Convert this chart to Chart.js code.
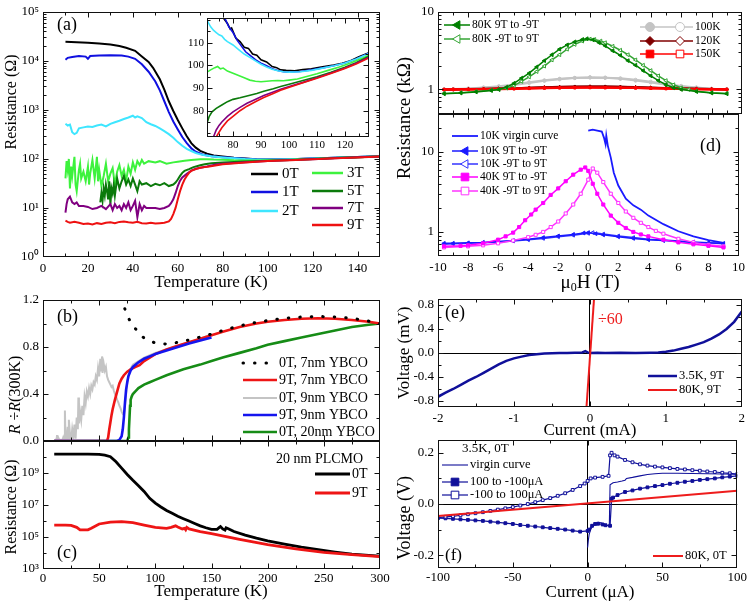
<!DOCTYPE html>
<html lang="en">
<head>
<meta charset="UTF-8">
<title>YBCO / PLCMO transport</title>
<style>
  body { margin: 0; background: #fff; }
  #wrap { position: relative; width: 749px; height: 603px; overflow: hidden; }
  #wrap canvas { position: absolute; left: 0; top: 0; }
</style>
</head>
<body>
<div id="wrap">
  <canvas id="ca" width="749" height="603"></canvas>
  <canvas id="cins" width="749" height="603"></canvas>
  <canvas id="cb" width="749" height="603"></canvas>
  <canvas id="cc" width="749" height="603"></canvas>
  <canvas id="cdt" width="749" height="603"></canvas>
  <canvas id="cdb" width="749" height="603"></canvas>
  <canvas id="ce" width="749" height="603"></canvas>
  <canvas id="cf" width="749" height="603"></canvas>
</div>
<script src="https://cdn.jsdelivr.net/npm/chart.js@4"></script>
<script>
// ---- tick values ----
const aXTicks = [0, 20, 40, 60, 80, 100, 120, 140];
const aYTicks = [1, 10, 100, 1e3, 1e4, 1e5];
const insXTicks = [80, 90, 100, 110, 120];
const insYTicks = [80, 90, 100, 110];
const bcXTicks = [0, 50, 100, 150, 200, 250, 300];
const bYTicks = [0, 0.4, 0.8, 1.2];
const cYTicks = [1e3, 1e5, 1e7, 1e9];
const dXTicks = [-10, -8, -6, -4, -2, 0, 2, 4, 6, 8, 10];
const dYTicks = [1, 10];
const eXTicks = [-2, -1, 0, 1, 2];
const eYTicks = [-0.8, -0.4, 0, 0.4, 0.8];
const fXTicks = [-100, -50, 0, 50, 100];
const fYTicks = [-0.2, 0, 0.2];

// ---- (a) R(T) of the bilayer, [T (K), R (ohm)] ----
const a0T = [[10,24500],[15,24000],[20,23500],[25,22500],[30,21500],[34,20000],[37,18500],[41,16000],[44,12300],[47,9500],[49,7200],[52,4200],[54,2600],[56,1500],[58,950],[60,620],[62,420],[64,290],[66,210],[68,170],[70,146],[73,128],[76,118],[80,112],[85,106],[90,102],[95,99],[100,97.5],[110,99],[120,102],[130,106],[140,110],[150,114]];
const a1T = [[10,10500],[11,11500],[13,12000],[16,12500],[19,12200],[20,11000],[21,12500],[25,12800],[30,13000],[35,12800],[38,12200],[41,11000],[44,8500],[47,6000],[50,3800],[52,2500],[54,1500],[56,900],[58,580],[60,400],[62,280],[64,210],[66,165],[68,140],[71,123],[75,113],[80,108],[85,104],[90,100.5],[95,98],[100,97],[110,98.5],[120,101.5],[130,105.5],[140,110],[150,114]];
const a2T = [[10,520],[11,480],[12,500],[13,350],[14,320],[15,340],[16,420],[18,440],[20,460],[22,450],[24,480],[26,500],[28,460],[30,520],[32,560],[34,600],[36,650],[38,700],[40,760],[41,700],[42,740],[44,680],[46,560],[48,510],[50,470],[52,420],[54,370],[56,320],[58,270],[60,220],[62,185],[64,160],[66,145],[68,132],[70,124],[72,119],[75,113],[80,107.5],[85,103],[90,99.5],[95,97.5],[100,97],[110,98.5],[120,101.5],[130,105.5],[140,110],[150,114]];
const a3T = [[10,40],[10.5,90],[11,60],[11.5,100],[12,25],[12.5,70],[13,45],[14,110],[14.5,30],[15,22],[16,60],[16.5,80],[17,40],[18,55],[19,35],[20,70],[20.5,30],[21,50],[22,95],[23,40],[24,110],[24.5,35],[25,60],[26,28],[27,45],[28,80],[29,35],[30,50],[31,65],[32,30],[33,55],[34,75],[35,45],[36,60],[37,35],[38,70],[39,50],[40,85],[41,60],[42,90],[43,75],[44,95],[45,80],[47,90],[50,85],[52,90],[55,80],[58,85],[60,88],[63,92],[66,95],[70,98],[73,98.5],[76,97],[80,96.5],[85,94],[90,92.8],[95,93],[100,93.5],[110,96.3],[120,100],[130,104.5],[140,108],[150,112]];
const a5T = [[25.5,13],[26,20],[26.5,14],[27,25],[27.5,18],[28,30],[28.5,22],[29,15],[29.5,35],[30,12],[30.5,25],[31,20],[31.5,30],[32,18],[33,40],[34,25],[35,35],[36,45],[37,30],[38,38],[39,28],[40,40],[41,30],[42,22],[43,35],[44,30],[46,32],[48,28],[50,31],[52,29],[54,32],[56,28],[58,30],[59,33],[60,38],[61,45],[62,52],[63,57],[65,62],[67,68],[70,74],[72,78],[75,82],[80,85],[90,89],[100,91.8],[110,95],[120,99.2],[130,104],[140,108],[150,112]];
const a7T = [[10,8],[10.5,12],[11,15],[12,17],[13,13],[14,12],[15,13],[16,11],[18,11],[20,10.5],[22,9.5],[24,10],[26,11],[28,9.5],[30,12],[31,9],[32,12],[33,10],[34,11],[35,9],[36,12],[37,10],[38,13],[39,9],[40,11],[41,14],[42,6.5],[43,12],[44,9],[45,11],[46,10],[48,10],[50,10],[52,9.5],[54,10],[56,11],[57,12.5],[58,15],[59,20],[60,28],[61,36],[62,42],[64,50],[66,58],[68,63],[70,66],[73,70],[77,77],[80,79.5],[90,86],[100,90.8],[110,94.5],[120,98.8],[130,103.6],[140,108],[150,112]];
const a9T = [[10,5.5],[11,5.2],[12,5.0],[14,5.2],[16,5.0],[18,4.7],[20,4.8],[22,4.6],[24,4.9],[26,4.7],[28,5.0],[30,5.1],[32,4.9],[34,5.2],[36,5.3],[38,5.1],[40,5.0],[42,5.2],[44,4.9],[46,4.8],[48,5.0],[50,4.8],[52,4.9],[54,5.0],[56,5.3],[57,6],[58,7.5],[59,10],[60,15],[61,22],[62,30],[63,38],[64,45],[65,52],[66,57],[68,62],[70,66],[72,68],[74,70],[76,72.5],[78,75.5],[80,77.5],[90,85],[100,90.5],[110,94.3],[120,98.6],[130,103.3],[140,107.5],[150,111.5]];

// ---- (a) inset ----
const in0T = [[76.5,121],[78,118.5],[79,116],[79.5,116.5],[81,112],[82.5,110.5],[84,108],[85.5,107.5],[87,105],[88.5,104.5],[90,102.5],[92,101.5],[94,99.5],[95.6,99],[97,98],[99,97.8],[102,97.6],[105,98.2],[108,98.5],[112,99.4],[116,100.2],[119,100.9],[122,102],[125,103.8],[128.6,105.6]];
const in1T = [[77,121],[78.5,117],[80,114.5],[81.5,111],[83,108.5],[84.5,106],[86,104.5],[88,102.5],[90,101],[92,99.8],[94,98.5],[96,97.7],[98,97.2],[100,97],[104,97.3],[108,98],[112,98.9],[116,99.8],[120,101],[124,102.8],[128.6,105.5]];
const in2T = [[70.7,120],[72,117],[73,115.5],[74,114.5],[75,113.5],[76,113],[77,111.5],[78,110.5],[80,109],[82,107],[84,105],[86,103.5],[88,102],[90,100.5],[92,99.3],[94,98.3],[96,97.6],[98,97.2],[100,97],[104,97.2],[108,97.8],[112,98.8],[116,99.8],[120,101],[124,102.8],[128.6,105.3]];
const in3T = [[70.7,97],[72,98],[73.5,99],[74.5,99.5],[75.5,98.5],[76.5,98.8],[78,97.5],[80,96.5],[82,95.5],[84,94.5],[86,93.5],[88,93],[90,92.8],[92,93],[94,93.2],[96,93.3],[98,93.2],[100,93.5],[103,94],[106,95],[110,96.3],[114,97.8],[118,99.3],[122,101],[126,103],[128.6,104.5]];
const in5T = [[70.7,74.5],[71.5,77.5],[72.5,79.5],[74,81],[76,82.5],[78,84],[80,85],[82.5,85.7],[85,86.5],[88.5,87.6],[91,88.6],[94.4,89.7],[97,90.7],[100.4,91.8],[105,93.3],[110,95],[115,97],[120,99.2],[124,101.2],[128.6,104]];
const in7T = [[73,68.4],[74,71.5],[75,73.5],[76,75],[78,77.5],[80,79.5],[82.5,81.5],[85,83.3],[88.5,85.3],[91,86.7],[94.4,88.3],[97,89.5],[100.4,90.8],[105,92.5],[110,94.5],[115,96.6],[120,98.8],[124,100.9],[128.6,103.6]];
const in9T = [[74,68.4],[75,70.5],[76,72.5],[78,75.5],[80,77.5],[82.5,80],[85,82],[88.5,84.3],[91,85.8],[94.4,87.6],[97,89],[100.4,90.5],[105,92.3],[110,94.3],[115,96.4],[120,98.6],[124,100.6],[128.6,103.3]];

// ---- (b) R/R(300K) of YBCO films ----
const b7nm0T = [[70,1.22],[71.5,1.17],[73,1.12],[74.5,1.09],[76,1.05],[77.5,1.02],[80,0.98],[82,0.96],[85,0.92],[88,0.89],[92,0.865],[95,0.85],[100,0.835],[104,0.83],[110,0.825],[115,0.83],[120,0.84],[130,0.86],[140,0.885],[150,0.91],[160,0.94],[175,0.98],[190,1.01],[200,1.025],[215,1.045],[230,1.055],[245,1.06],[260,1.055],[275,1.045],[290,1.02],[300,1.0]];
const b7nm9T = [[10,0],[57,0],[58,0.03],[59,0.1],[60,0.16],[61,0.22],[62,0.27],[64,0.35],[66,0.42],[68,0.49],[70,0.53],[72,0.56],[75,0.59],[78,0.61],[82,0.63],[86,0.645],[90,0.68],[100,0.74],[110,0.78],[120,0.81],[130,0.84],[140,0.87],[150,0.9],[160,0.93],[175,0.97],[190,1.0],[200,1.015],[215,1.03],[230,1.04],[245,1.045],[260,1.04],[275,1.03],[290,1.015],[300,1.0]];
const b9nm0T = [[10,0],[11,0.01],[12,0],[12.5,0.05],[13,0],[14,0.02],[15,0],[16,0.01],[17,0],[18,0.03],[19,0],[19.5,0.26],[20,0.05],[21,0],[22,0.12],[22.5,0.02],[23,0.18],[24,0.06],[25,0],[26,0.1],[27,0.03],[28,0.14],[29,0.02],[30,0.2],[31,0.1],[31.5,0.37],[32,0.15],[33,0.25],[34,0.18],[35,0.3],[36,0.22],[37,0.38],[38,0.32],[39,0.42],[40,0.38],[41,0.45],[42,0.4],[43,0.47],[44,0.44],[45,0.5],[46,0.48],[47,0.55],[48,0.52],[49,0.62],[50,0.55],[51,0.7],[52,0.6],[52.5,0.72],[53,0.58],[54,0.66],[55,0.6],[56,0.63],[57,0.55],[58,0.52],[59,0.5],[60,0.48],[61,0.46],[62,0.47],[63,0.43],[64,0.4],[65,0.38],[66,0.35],[67,0.33],[68,0.3],[69,0.28],[70,0.25],[71,0.23],[72,0.22],[73,0.3],[75,0.5],[77,0.6],[80,0.65],[90,0.71],[100,0.75],[120,0.81],[140,0.87],[150,0.91]];
const b9nm9T = [[10,0],[66,0],[68,0.01],[70,0.04],[71,0.1],[72,0.2],[73,0.33],[74,0.44],[75,0.5],[76,0.55],[78,0.6],[80,0.63],[85,0.67],[90,0.7],[95,0.72],[100,0.74],[110,0.77],[120,0.8],[130,0.83],[140,0.855],[150,0.88]];
const b20nm0T = [[10,0],[75,0],[76,0.03],[76.5,0.1],[77,0.2],[77.5,0.3],[78,0.35],[79,0.38],[80,0.4],[82,0.42],[85,0.45],[90,0.48],[95,0.5],[100,0.52],[110,0.56],[125,0.61],[140,0.65],[150,0.68],[160,0.71],[175,0.75],[190,0.79],[200,0.82],[215,0.85],[230,0.88],[245,0.91],[260,0.94],[275,0.97],[290,0.99],[300,1.0]];

// ---- (c) 20 nm PLCMO, [T, R (ohm)] ----
const c0T = [[10,1.5e10],[20,1.5e10],[30,1.5e10],[40,1.5e10],[50,1.45e10],[55,1.3e10],[60,1.05e10],[65,5e9],[70,2e9],[75,8e8],[80,3.5e8],[85,1.6e8],[90,7e7],[95,2.6e7],[100,1.3e7],[105,7.5e6],[110,4.5e6],[115,3e6],[120,2e6],[125,1.4e6],[130,1e6],[135,7e5],[140,5e5],[145,3.8e5],[150,3e5],[155,3e5],[157,4e5],[158,4.5e5],[160,3.2e5],[162,2.7e5],[163,3.8e5],[165,3.3e5],[170,2.2e5],[180,1.3e5],[190,8.5e4],[200,5.8e4],[215,3.6e4],[230,2.3e4],[245,1.6e4],[260,1.15e4],[275,8.5e3],[290,7e3],[300,6.3e3]];
const c9T = [[10,5.6e5],[20,5.6e5],[25,5.3e5],[30,4e5],[33,2.8e5],[40,2.8e5],[43,3.5e5],[50,6.5e5],[60,8.5e5],[70,9.1e5],[80,8e5],[90,5.6e5],[100,4e5],[110,3.5e5],[114,4e5],[118,5e5],[120,4.2e5],[124,3.2e5],[126,3.5e5],[127,2.8e5],[128,4e5],[130,3.2e5],[140,2.2e5],[150,1.6e5],[175,7e4],[200,3.3e4],[225,1.8e4],[250,1.1e4],[275,8e3],[300,6e3]];

// ---- (d) R(H), [mu0H (T), R (kohm)] ----
const d80down = [[-9.6,0.88],[-8.5,0.9],[-7.5,0.93],[-6.5,0.97],[-6,1.0],[-5.5,1.07],[-5,1.2],[-4.5,1.4],[-4,1.62],[-3.5,1.95],[-3,2.35],[-2.5,2.8],[-2,3.3],[-1.5,3.75],[-1,4.1],[-0.5,4.4],[-0.2,4.5],[0.2,4.35],[0.6,4.0],[1,3.65],[1.5,3.15],[2,2.75],[2.5,2.35],[3,2.05],[3.5,1.75],[4,1.5],[4.5,1.3],[5,1.15],[5.5,1.05],[6,1.0],[7,0.94],[8,0.9],[9,0.88]];
const d80up = [[-9.6,0.89],[-8.5,0.91],[-7.5,0.94],[-6.5,0.98],[-6,1.0],[-5.5,1.04],[-5,1.12],[-4.5,1.27],[-4,1.45],[-3.5,1.7],[-3,2.0],[-2.5,2.4],[-2,2.8],[-1.5,3.3],[-1,3.8],[-0.5,4.2],[0,4.45],[0.3,4.4],[0.7,4.2],[1,4.0],[1.5,3.6],[2,3.2],[2.5,2.8],[3,2.4],[3.5,2.05],[4,1.75],[4.5,1.5],[5,1.3],[5.5,1.15],[6,1.05],[6.5,1.0],[7,0.95],[8,0.91],[9,0.89]];
const d100down = [[-9.6,1.0],[-9,1.01],[-8,1.03],[-7,1.06],[-6,1.1],[-5,1.16],[-4,1.24],[-3,1.31],[-2,1.37],[-1,1.41],[0,1.43],[1,1.41],[2,1.37],[3,1.3],[4,1.23],[5,1.15],[6,1.09],[7,1.05],[8,1.02],[9,1.0]];
const d100up = [[-9.6,1.0],[-9,1.0],[-8,1.02],[-7,1.05],[-6,1.08],[-5,1.14],[-4,1.21],[-3,1.29],[-2,1.35],[-1,1.4],[0,1.43],[1,1.42],[2,1.39],[3,1.33],[4,1.26],[5,1.18],[6,1.11],[7,1.06],[8,1.02],[9,1.0]];
const d120down = [[-9.6,1.0],[-9,1.0],[-8,1.01],[-7,1.02],[-6,1.03],[-5,1.04],[-4,1.055],[-3,1.07],[-2,1.08],[-1,1.09],[0,1.095],[1,1.09],[2,1.08],[3,1.07],[4,1.055],[5,1.04],[6,1.03],[7,1.02],[8,1.01],[9,1.0]];
const d120up = [[-9.6,0.99],[-9,1.0],[-8,1.005],[-7,1.015],[-6,1.025],[-5,1.035],[-4,1.05],[-3,1.065],[-2,1.075],[-1,1.085],[0,1.09],[1,1.09],[2,1.085],[3,1.075],[4,1.06],[5,1.045],[6,1.035],[7,1.02],[8,1.01],[9,1.0]];
const d150down = [[-9.6,1.0],[-9,1.0],[-8,1.005],[-7,1.01],[-6,1.015],[-5,1.025],[-4,1.035],[-3,1.045],[-2,1.05],[-1,1.055],[0,1.06],[1,1.055],[2,1.05],[3,1.045],[4,1.035],[5,1.025],[6,1.015],[7,1.01],[8,1.005],[9,1.0]];
const d150up = [[-9.6,0.995],[-9,1.0],[-8,1.0],[-7,1.005],[-6,1.012],[-5,1.02],[-4,1.03],[-3,1.04],[-2,1.048],[-1,1.053],[0,1.058],[1,1.056],[2,1.052],[3,1.046],[4,1.038],[5,1.028],[6,1.018],[7,1.01],[8,1.005],[9,1.0]];
const d10virgin = [[0,18.5],[0.3,19],[0.6,18.5],[0.9,18],[1.05,15],[1.15,12.5],[1.2,16],[1.3,12],[1.5,8.5],[1.7,5.5],[2,3.8],[2.5,2.6],[3,2.15],[3.5,1.9],[4,1.6],[5,1.25],[6,1.02],[7,0.88],[8,0.79],[9,0.73]];
const d10down = [[-9.6,0.72],[-9,0.72],[-8,0.73],[-7,0.74],[-6,0.76],[-5,0.78],[-4,0.81],[-3,0.85],[-2,0.89],[-1,0.93],[-0.3,0.97],[0,0.98],[0.5,0.95],[1,0.92],[2,0.87],[3,0.83],[4,0.8],[5,0.78],[6,0.76],[7,0.74],[8,0.73],[9,0.71]];
const d10up = [[-9.6,0.7],[-9,0.71],[-8,0.72],[-7,0.73],[-6,0.75],[-5,0.77],[-4,0.8],[-3,0.83],[-2,0.87],[-1,0.91],[0,0.96],[0.3,0.98],[1,0.94],[2,0.89],[3,0.85],[4,0.81],[5,0.79],[6,0.77],[7,0.75],[8,0.73],[9,0.72]];
const d40down = [[-9.6,0.66],[-8.5,0.67],[-8,0.68],[-7,0.72],[-6,0.8],[-5.5,0.88],[-5,0.98],[-4.6,1.15],[-4.2,1.4],[-3.8,1.65],[-3.5,1.9],[-3,2.3],[-2.5,2.9],[-2,3.5],[-1.5,4.3],[-1,5.2],[-0.5,6.0],[-0.2,6.4],[0,5.8],[0.3,4.0],[0.6,3.0],[1,2.2],[1.5,1.6],[2,1.3],[2.5,1.12],[3,1.0],[3.5,0.93],[4,0.88],[5,0.8],[6,0.74],[7,0.7],[8,0.67],[9,0.64]];
const d40up = [[-9.6,0.64],[-8,0.66],[-7,0.68],[-6,0.72],[-5,0.78],[-4,0.86],[-3.5,0.92],[-3,1.0],[-2.5,1.15],[-2,1.35],[-1.5,1.7],[-1,2.2],[-0.5,3.0],[0,4.5],[0.3,6.2],[0.6,5.5],[1,4.2],[1.5,3.0],[2,2.3],[2.5,1.8],[3,1.5],[3.5,1.3],[4,1.15],[4.5,1.03],[5,0.95],[6,0.82],[7,0.74],[8,0.69],[9,0.66]];

// ---- (e) V(I), [I (mA), V (mV)] ----
const e35K = [[-2,-0.73],[-1.9,-0.66],[-1.8,-0.6],[-1.7,-0.53],[-1.6,-0.46],[-1.5,-0.4],[-1.4,-0.33],[-1.3,-0.26],[-1.2,-0.19],[-1.1,-0.13],[-1.0,-0.09],[-0.9,-0.06],[-0.8,-0.035],[-0.7,-0.02],[-0.6,-0.01],[-0.5,-0.005],[-0.4,0],[-0.3,0],[-0.2,0.005],[-0.1,0.01],[-0.06,0.03],[-0.03,0.01],[0,0],[0.1,0.005],[0.2,0],[0.4,0.005],[0.6,0],[0.8,0.005],[0.9,0.01],[1.0,0.02],[1.1,0.04],[1.2,0.07],[1.3,0.1],[1.4,0.14],[1.5,0.18],[1.6,0.24],[1.7,0.31],[1.8,0.4],[1.9,0.52],[2.0,0.69]];
const e80K = [[-0.05,-1.0],[0.06,1.0]];

// ---- (f) V(I), [I (uA), V (V)] ----
const f80K = [[-100,-0.047],[100,0.052]];
const fVirgin = [[0,-0.17],[0.5,-0.14],[1,-0.12],[2,-0.1],[3,-0.09],[5,-0.078],[7,-0.072],[9,-0.073],[11,-0.078],[13,-0.083],[14.5,-0.086],[15,0.075],[17,0.083],[20,0.086],[23,0.09],[25,0.093],[26,0.1],[30,0.104],[35,0.11],[40,0.115],[45,0.118],[50,0.12],[60,0.12],[70,0.119],[80,0.118],[90,0.117],[100,0.116]];
const fDown = [[100,0.11],[95,0.107],[90,0.104],[85,0.1],[80,0.097],[75,0.094],[70,0.09],[65,0.087],[60,0.083],[55,0.079],[50,0.074],[45,0.07],[40,0.065],[35,0.06],[30,0.053],[25,0.047],[20,0.035],[17,0.025],[16,0.02],[15,-0.085],[12,-0.083],[10,-0.08],[7,-0.077],[5,-0.078],[3,-0.085],[1,-0.1],[0,-0.105],[-5,-0.108],[-10,-0.104],[-15,-0.1],[-20,-0.097],[-25,-0.094],[-30,-0.091],[-35,-0.088],[-40,-0.085],[-45,-0.082],[-50,-0.078],[-55,-0.075],[-60,-0.072],[-65,-0.069],[-70,-0.066],[-75,-0.064],[-80,-0.062],[-85,-0.06],[-90,-0.058],[-95,-0.056],[-100,-0.055]];
const fUp = [[-100,-0.053],[-95,-0.05],[-90,-0.048],[-85,-0.044],[-80,-0.04],[-75,-0.036],[-70,-0.032],[-65,-0.027],[-60,-0.022],[-55,-0.017],[-50,-0.012],[-45,-0.006],[-40,0],[-35,0.007],[-30,0.015],[-25,0.023],[-20,0.032],[-15,0.042],[-10,0.055],[-5,0.07],[-2,0.08],[0,0.09],[2,0.1],[5,0.103],[10,0.106],[14,0.11],[15,0.19],[16,0.2],[18,0.19],[20,0.185],[25,0.172],[30,0.163],[35,0.155],[40,0.15],[45,0.146],[50,0.143],[55,0.14],[60,0.137],[65,0.135],[70,0.132],[75,0.13],[80,0.127],[85,0.125],[90,0.122],[95,0.12],[100,0.117]];

// ---- drawing ----
const FONT = "'Liberation Serif', 'Times New Roman', serif";
Chart.defaults.font.family = FONT;
Chart.defaults.font.size = 13;
Chart.defaults.color = '#000';

const XH = 24, YW = 40;
const SUP = '⁰¹²³⁴⁵⁶⁷⁸⁹';
const pow10 = v => '10' + String(Math.round(Math.log10(v))).split('').map(c => SUP[+c]).join('');
function logMinor(lo, hi) {
  const out = [];
  for (let e = lo; e < hi; e++) for (let k = 2; k <= 9; k++) out.push(k * Math.pow(10, e));
  return out;
}
const pts = arr => arr.map(([x, y]) => ({ x, y }));

function line(label, data, color, width, extra) {
  return Object.assign({ label, data: pts(data), borderColor: color, backgroundColor: color,
    borderWidth: width, pointRadius: 0, fill: false, tension: 0 }, extra || {});
}
function marks(style, color, fill, rot, r) {
  return { pointStyle: style, pointRadius: r || 2.2, pointBorderWidth: 1, pointBorderColor: color,
    pointBackgroundColor: fill, pointRotation: rot || 0 };
}

function scale(o, isX) {
  return {
    type: o.log ? 'logarithmic' : 'linear',
    position: isX ? 'bottom' : 'left',
    min: o.min, max: o.max,
    afterBuildTicks: s => { s.ticks = o.ticks.map(v => ({ value: v })); },
    afterFit: s => { if (isX) s.height = XH; else s.width = YW; },
    ticks: { display: o.show !== false, autoSkip: false, maxRotation: 0, padding: o.pad || 4,
      font: { size: o.size || 13 }, color: '#000', callback: o.fmt || (v => v) },
    grid: { display: !!o.zero, drawTicks: false,
      color: c => (c.tick && c.tick.value === 0) ? '#000' : 'rgba(0,0,0,0)' },
    border: { display: false }
  };
}

function drawMark(ctx, d, x, y, r) {
  ctx.save();
  ctx.translate(x, y);
  ctx.rotate((d.pointRotation || 0) * Math.PI / 180);
  ctx.beginPath();
  if (d.pointStyle === 'circle') ctx.arc(0, 0, r, 0, 2 * Math.PI);
  else if (d.pointStyle === 'rect') ctx.rect(-r * 0.85, -r * 0.85, r * 1.7, r * 1.7);
  else if (d.pointStyle === 'rectRot') { ctx.moveTo(0, -r); ctx.lineTo(r, 0); ctx.lineTo(0, r); ctx.lineTo(-r, 0); ctx.closePath(); }
  else if (d.pointStyle === 'triangle') { ctx.moveTo(0, -r); ctx.lineTo(r * 0.95, r * 0.65); ctx.lineTo(-r * 0.95, r * 0.65); ctx.closePath(); }
  ctx.fillStyle = d.pointBackgroundColor;
  ctx.fill();
  ctx.lineWidth = 1;
  ctx.strokeStyle = d.pointBorderColor || d.borderColor;
  ctx.stroke();
  ctx.restore();
}

// frame plus inward ticks on all four sides
const frameTicks = {
  id: 'frameTicks',
  beforeDatasetsDraw(chart, args, o) {
    if (!o.bg) return;
    const a = chart.chartArea;
    chart.ctx.save();
    chart.ctx.fillStyle = '#fff';
    chart.ctx.fillRect(a.left, a.top, a.right - a.left, a.bottom - a.top);
    chart.ctx.restore();
  },
  afterDatasetsDraw(chart, args, o) {
    const { ctx, chartArea: a } = chart;
    const x = chart.scales.x, y = chart.scales.y;
    const L = Math.round(a.left) + 0.5, R = Math.round(a.right) - 0.5;
    const T = Math.round(a.top) + 0.5, B = Math.round(a.bottom) - 0.5;
    ctx.save();
    ctx.strokeStyle = '#111';
    ctx.lineWidth = 1;
    ctx.beginPath();
    const tick = (vals, len, isX) => vals.forEach(v => {
      const p = Math.round((isX ? x : y).getPixelForValue(v)) + 0.5;
      if (isX) {
        if (p < L - 0.1 || p > R + 0.1) return;
        ctx.moveTo(p, B); ctx.lineTo(p, B - len); ctx.moveTo(p, T); ctx.lineTo(p, T + len);
      } else {
        if (p < T - 0.1 || p > B + 0.1) return;
        ctx.moveTo(L, p); ctx.lineTo(L + len, p); ctx.moveTo(R, p); ctx.lineTo(R - len, p);
      }
    });
    tick(x.ticks.map(t => t.value), 5, true);
    tick(o.xMinor || [], 3, true);
    tick(y.ticks.map(t => t.value), 5, false);
    tick(o.yMinor || [], 3, false);
    ctx.stroke();
    ctx.strokeRect(L, T, R - L, B - T);
    ctx.restore();
  }
};

// legend rows placed by hand, style taken from the datasets
const keyBox = {
  id: 'keyBox',
  afterDraw(chart, args, o) {
    if (!o.items) return;
    const ctx = chart.ctx;
    ctx.save();
    ctx.font = (o.size || 14) + 'px ' + FONT;
    ctx.textBaseline = 'middle';
    o.items.forEach(it => {
      const ids = [].concat(it.ds);
      const d = chart.data.datasets[ids[0]];
      const len = it.len || o.len || 30;
      ctx.strokeStyle = d.borderColor;
      ctx.lineWidth = o.lw || d.borderWidth;
      ctx.setLineDash(d.borderDash || []);
      ctx.lineCap = d.borderCapStyle || 'butt';
      ctx.beginPath();
      ctx.moveTo(it.x, it.y);
      ctx.lineTo(it.x + len, it.y);
      ctx.stroke();
      ctx.setLineDash([]);
      ctx.lineCap = 'butt';
      ids.forEach((id, k) => {
        const dd = chart.data.datasets[id];
        if (!dd.pointStyle) return;
        drawMark(ctx, dd, it.marks ? it.marks[k] : it.x + len / 2, it.y, o.r || 4.5);
      });
      ctx.fillStyle = '#000';
      ctx.fillText(it.text || chart.data.datasets[ids[ids.length - 1]].label, it.x + len + (o.gap || 3), it.y);
    });
    ctx.restore();
  }
};

// free text: axis titles, panel letters, notes
const notes = {
  id: 'notes',
  afterDraw(chart, args, o) {
    if (!o.items) return;
    const ctx = chart.ctx;
    o.items.forEach(it => {
      ctx.save();
      ctx.translate(it.x, it.y);
      if (it.rot) ctx.rotate(it.rot * Math.PI / 180);
      const segs = it.segs || [{ t: it.text }];
      const fnt = s => (s.italic ? 'italic ' : '') + (s.size || it.size || 17) + 'px ' + FONT;
      let total = 0;
      segs.forEach(s => { ctx.font = fnt(s); s.w = ctx.measureText(s.t).width; total += s.w; });
      let cx = it.align === 'left' ? 0 : it.align === 'right' ? -total : -total / 2;
      ctx.textBaseline = 'middle';
      ctx.fillStyle = it.color || '#000';
      segs.forEach(s => { ctx.font = fnt(s); ctx.fillText(s.t, cx, s.dy || 0); cx += s.w; });
      ctx.restore();
    });
  }
};
Chart.register(frameTicks, keyBox, notes);

function makeChart(id, box, xo, yo, datasets, plug) {
  return new Chart(document.getElementById(id), {
    type: 'line',
    data: { datasets },
    options: {
      responsive: false, animation: false, events: [],
      layout: { padding: { left: box.l - YW, top: box.t, right: 749 - box.r, bottom: 603 - box.b - XH } },
      scales: { x: scale(xo, true), y: scale(yo, false) },
      plugins: Object.assign({ legend: { display: false }, tooltip: { enabled: false } }, plug)
    }
  });
}

const dec1 = v => v.toFixed(1);

// (a)
makeChart('ca', { l: 43, t: 10, r: 380, b: 257 },
  { min: 0, max: 150, ticks: aXTicks },
  { log: true, min: 1, max: 1e5, ticks: aYTicks, fmt: pow10 },
  [
    line('9T', a9T, '#ee1111', 2),
    line('7T', a7T, '#800080', 2),
    line('5T', a5T, '#0b7a0b', 2),
    line('3T', a3T, '#3df23d', 2),
    line('2T', a2T, '#3ee6ff', 2),
    line('1T', a1T, '#1010e0', 2),
    line('0T', a0T, '#000000', 2)
  ],
  {
    frameTicks: { xMinor: [10, 30, 50, 70, 90, 110, 130, 150], yMinor: logMinor(0, 5) },
    keyBox: { size: 15, gap: 4, lw: 2.5, items: [
      { ds: 6, x: 251, y: 174, len: 27 }, { ds: 5, x: 251, y: 192, len: 27 }, { ds: 4, x: 251, y: 211, len: 27 },
      { ds: 3, x: 312, y: 173, len: 31 }, { ds: 2, x: 312, y: 191, len: 31 },
      { ds: 1, x: 312, y: 208, len: 31 }, { ds: 0, x: 312, y: 225, len: 31 }] },
    notes: { items: [
      { text: 'Resistance (Ω)', x: 12, y: 102, rot: -90, size: 16 },
      { text: 'Temperature (K)', x: 211, y: 283, size: 17 },
      { text: '(a)', x: 57, y: 25, align: 'left', size: 18 }] }
  });

// (a) inset
makeChart('cins', { l: 207, t: 18, r: 369, b: 137 },
  { min: 70.7, max: 128.6, ticks: insXTicks, size: 11, pad: 2 },
  { min: 68.4, max: 120.9, ticks: insYTicks, size: 11, pad: 3 },
  [
    line('9T', in9T, '#ee1111', 1.6),
    line('7T', in7T, '#800080', 1.6),
    line('5T', in5T, '#0b7a0b', 1.6),
    line('3T', in3T, '#3df23d', 1.6),
    line('2T', in2T, '#3ee6ff', 1.6),
    line('1T', in1T, '#1010e0', 1.6),
    line('0T', in0T, '#000000', 1.6)
  ],
  { frameTicks: { bg: true, xMinor: [75, 85, 95, 105, 115, 125], yMinor: [70, 75, 85, 95, 105, 115, 120] } });

// (b)
makeChart('cb', { l: 43, t: 300, r: 380, b: 441 },
  { min: 0, max: 300, ticks: bcXTicks, show: false },
  { min: 0, max: 1.2, ticks: bYTicks, fmt: dec1 },
  [
    line('0T, 7nm YBCO', b7nm0T, '#000000', 3, { borderDash: [0.5, 11], borderCapStyle: 'round' }),
    line('9T, 9nm YBCO', b9nm9T, '#1515ee', 2.6),
    line('9T, 7nm YBCO', b7nm9T, '#ee1515', 2.6),
    line('0T, 9nm YBCO', b9nm0T, '#c4c4c4', 2),
    line('0T, 20nm YBCO', b20nm0T, '#168c16', 2.6)
  ],
  {
    frameTicks: { xMinor: [25, 75, 125, 175, 225, 275], yMinor: [0.2, 0.6, 1.0] },
    keyBox: { size: 14, gap: 2, len: 34, items: [
      { ds: 0, x: 243, y: 363 }, { ds: 2, x: 243, y: 380 }, { ds: 3, x: 243, y: 398 },
      { ds: 1, x: 243, y: 415 }, { ds: 4, x: 243, y: 432 }] },
    notes: { items: [
      { segs: [{ t: 'R', italic: true }, { t: ' ÷' }, { t: 'R', italic: true }, { t: '(300K)' }], x: 16, y: 395, rot: -90, size: 16 },
      { text: '(b)', x: 57, y: 317, align: 'left', size: 18 }] }
  });

// (c)
makeChart('cc', { l: 43, t: 441, r: 380, b: 569 },
  { min: 0, max: 300, ticks: bcXTicks, pad: 2 },
  { log: true, min: 1e3, max: 1e11, ticks: cYTicks, fmt: pow10 },
  [
    line('9T', c9T, '#ee1515', 2.8),
    line('0T', c0T, '#000000', 2.8)
  ],
  {
    frameTicks: { xMinor: [25, 75, 125, 175, 225, 275], yMinor: [1e4, 1e6, 1e8, 1e10] },
    keyBox: { size: 14, gap: 2, len: 35, items: [{ ds: 1, x: 315, y: 474 }, { ds: 0, x: 315, y: 493 }] },
    notes: { items: [
      { text: 'Resistance (Ω)', x: 12, y: 507, rot: -90, size: 16 },
      { text: 'Temperature (K)', x: 211, y: 592, size: 17 },
      { text: '(c)', x: 57, y: 553, align: 'left', size: 18 },
      { text: '20 nm PLCMO', x: 276, y: 459, align: 'left', size: 14 }] }
  });

// (d) upper half
makeChart('cdt', { l: 438, t: 10, r: 742, b: 114 },
  { min: -10, max: 10, ticks: dXTicks, show: false },
  { log: true, min: 0.483, max: 10, ticks: dYTicks },
  [
    line('80K 9T to -9T', d80down, '#008000', 1.5, marks('triangle', '#008000', '#008000', -90)),
    line('80K -9T to 9T', d80up, '#35a535', 1.5, marks('triangle', '#35a535', '#ffffff', -90)),
    line('150K', d150down, '#ff0000', 2.2, marks('rect', '#ff0000', '#ff0000', 0, 1.6)),
    line('150K', d150up, '#ff0000', 2.2, marks('rect', '#ff0000', '#ffffff', 0, 1.6)),
    line('120K', d120down, '#800000', 2, marks('rectRot', '#800000', '#800000', 0, 1.6)),
    line('120K', d120up, '#800000', 2, marks('rectRot', '#800000', '#ffffff', 0, 1.6)),
    line('100K', d100down, '#c4c4c4', 2, marks('circle', '#c4c4c4', '#c4c4c4', 0, 1.6)),
    line('100K', d100up, '#c4c4c4', 2, marks('circle', '#c4c4c4', '#ffffff', 0, 1.6))
  ],
  {
    frameTicks: { xMinor: [-9, -7, -5, -3, -1, 1, 3, 5, 7, 9], yMinor: logMinor(-1, 1).filter(v => v > 0.48) },
    keyBox: { size: 11.5, gap: 2, r: 4.5, lw: 1.5, items: [
      { ds: 0, x: 444, y: 25, len: 26 }, { ds: 1, x: 444, y: 39, len: 26 },
      { ds: [6, 7], x: 640, y: 27, len: 53, marks: [650, 680] },
      { ds: [4, 5], x: 640, y: 41, len: 53, marks: [650, 680] },
      { ds: [2, 3], x: 640, y: 54, len: 53, marks: [650, 680] }] }
  });

// (d) lower half
makeChart('cdb', { l: 438, t: 114, r: 742, b: 256 },
  { min: -10, max: 10, ticks: dXTicks },
  { log: true, min: 0.5, max: 29.8, ticks: dYTicks },
  [
    line('10K virgin curve', d10virgin, '#1a1aff', 1.8),
    line('40K 9T to -9T', d40down, '#ff00ff', 1.5, marks('rect', '#ff00ff', '#ff00ff')),
    line('40K -9T to 9T', d40up, '#ff33ff', 1.5, marks('rect', '#ff33ff', '#ffffff')),
    line('10K 9T to -9T', d10down, '#1a1aff', 1.5, marks('triangle', '#1a1aff', '#1a1aff', -90)),
    line('10K -9T to 9T', d10up, '#3333ff', 1.5, marks('triangle', '#3333ff', '#ffffff', -90))
  ],
  {
    frameTicks: { xMinor: [-9, -7, -5, -3, -1, 1, 3, 5, 7, 9], yMinor: logMinor(-1, 2).filter(v => v >= 0.5 && v <= 29.8) },
    keyBox: { size: 11.5, gap: 2, r: 4.5, len: 26, items: [
      { ds: 0, x: 452, y: 136 }, { ds: 3, x: 452, y: 151 }, { ds: 4, x: 452, y: 164 },
      { ds: 1, x: 452, y: 177 }, { ds: 2, x: 452, y: 191 }] },
    notes: { items: [
      { text: 'Resistance (kΩ)', x: 405, y: 118, rot: -90, size: 19 },
      { segs: [{ t: 'μ' }, { t: '0', size: 12, dy: 5 }, { t: 'H (T)' }], x: 590, y: 283, size: 19 },
      { text: '(d)', x: 700, y: 146, align: 'left', size: 18 }] }
  });

// (e)
makeChart('ce', { l: 438, t: 299, r: 742, b: 407 },
  { min: -2, max: 2, ticks: eXTicks, zero: true },
  { min: -0.9, max: 0.9, ticks: eYTicks, fmt: dec1, zero: true },
  [
    line('80K, 9T', e80K, '#ee1c1c', 2),
    line('3.5K, 9T', e35K, '#10109a', 2.5)
  ],
  {
    frameTicks: { xMinor: [-1.5, -0.5, 0.5, 1.5], yMinor: [-0.6, -0.2, 0.2, 0.6] },
    keyBox: { size: 12.5, gap: 2, len: 29, items: [{ ds: 1, x: 648, y: 376 }, { ds: 0, x: 648, y: 390 }] },
    notes: { items: [
      { text: 'Voltage (mV)', x: 405, y: 353, rot: -90, size: 17 },
      { text: 'Current (mA)', x: 590, y: 431, size: 17 },
      { text: '(e)', x: 445, y: 313, align: 'left', size: 18 },
      { text: '÷60', x: 598, y: 320, align: 'left', size: 16, color: '#ee1c1c' }] }
  });

// (f)
makeChart('cf', { l: 438, t: 440, r: 742, b: 568 },
  { min: -100, max: 100, ticks: fXTicks, zero: true, pad: 2 },
  { min: -0.25, max: 0.25, ticks: fYTicks, fmt: dec1, zero: true },
  [
    line('80K, 0T', f80K, '#ee1c1c', 2),
    line('virgin curve', fVirgin, '#10109a', 1.1),
    line('-100 to 100μA', fUp, '#10109a', 1.2, marks('rect', '#10109a', '#ffffff', 0, 2)),
    line('100 to -100μA', fDown, '#10109a', 1.2, marks('rect', '#10109a', '#10109a', 0, 2))
  ],
  {
    frameTicks: { xMinor: [-75, -25, 25, 75], yMinor: [-0.1, 0.1] },
    keyBox: { size: 12.5, gap: 2, r: 4.5, items: [
      { ds: 1, x: 442, y: 465, len: 26 }, { ds: 3, x: 442, y: 482, len: 26 },
      { ds: 2, x: 442, y: 495, len: 26 }, { ds: 0, x: 653, y: 556, len: 30 }] },
    notes: { items: [
      { text: 'Voltage (V)', x: 405, y: 518, rot: -90, size: 18 },
      { text: 'Current (μA)', x: 590, y: 593, size: 17 },
      { text: '(f)', x: 445, y: 556, align: 'left', size: 17 },
      { text: '3.5K, 0T', x: 462, y: 449, align: 'left', size: 13 }] }
  });
</script>
</body>
</html>
